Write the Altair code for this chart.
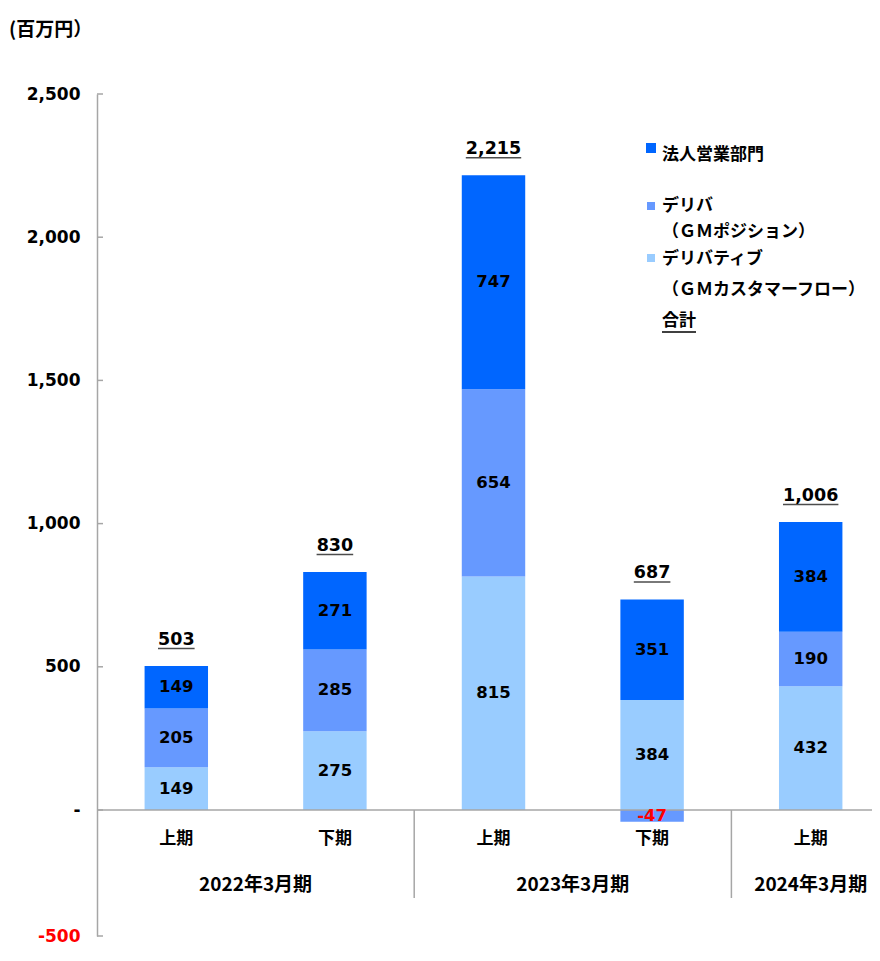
import altair as alt
import pandas as pd

# ---- data ----
periods = ["上期", "下期", "上期", "下期", "上期"]
fiscal_years = ["2022年3月期", "2022年3月期", "2023年3月期", "2023年3月期", "2024年3月期"]
customer_flow = [149, 275, 815, 384, 432]   # デリバティブ（GMカスタマーフロー）
gm_position = [205, 285, 654, -47, 190]     # デリバ（GMポジション）
corporate = [149, 271, 747, 351, 384]       # 法人営業部門
totals = [503, 830, 2215, 687, 1006]

series_names = ["デリバティブ（GMカスタマーフロー）", "デリバ（GMポジション）", "法人営業部門"]
series_colors = ["#99CCFF", "#6699FF", "#0066FF"]
y_ticks = [-500, 0, 500, 1000, 1500, 2000, 2500]
legend_lines = ["法人営業部門", "デリバ", "（ＧＭポジション）", "デリバティブ", "（ＧＭカスタマーフロー）", "合計"]
unit_title = "(百万円）"

# ---- layout ----
W, H = 775, 842          # visible plot width / height
RANGE_W = 793            # band range (plot runs past the page edge, as in the reference)
STEP = RANGE_W / len(periods)
ZERO_PX = 716            # pixel of value 0 from the plot top
NUM_FONT = "DejaVu Sans"
JP_FONT = "Noto Sans CJK JP"
GRAY = "#A6A6A6"

keys = [f"{y} {p}" for y, p in zip(fiscal_years, periods)]

rows = []
tops = []
for i, k in enumerate(keys):
    pos, neg = 0, 0
    for s, vals in zip(series_names, [customer_flow, gm_position, corporate]):
        v = vals[i]
        if v >= 0:
            y0, y1 = pos, pos + v
            pos = y1
        else:
            y0, y1 = neg + v, neg
            neg = y0
        rows.append({"key": k, "series": s, "value": v, "y0": y0, "y1": y1,
                     "mid": (y0 + y1) / 2, "lab": f"{v:,}",
                     "tcol": "#FF0000" if v < 0 else "#000000"})
    tops.append(pos)
seg = pd.DataFrame(rows)

def uw(t):
    return sum(6.6 if c == "," else 12.2 for c in t)

tot = pd.DataFrame({"key": keys, "top": tops, "lab": [f"{t:,}" for t in totals]})
tot["w"] = tot["lab"].map(uw)
lab_df = pd.DataFrame({"key": keys, "period": periods, "fy": fiscal_years})

xs = alt.Scale(domain=keys, range=[0, RANGE_W], paddingInner=0.6, paddingOuter=0.3)
ys = alt.Scale(domain=[-500, 0, 2500], range=[H, ZERO_PX, 0], nice=False, zero=False)
yaxis = alt.Axis(
    values=y_ticks,
    labelExpr="datum.value == 0 ? '-' : (datum.value < 0 ? '-' + format(-datum.value, ',') : format(datum.value, ','))",
    labelColor=alt.condition("datum.value < 0", alt.value("#FF0000"), alt.value("#000000")),
    labelFont=NUM_FONT, labelFontSize=17, labelFontWeight="bold",
    labelPadding=17, tickSize=0, ticks=False, grid=False,
    domainColor=GRAY, domainWidth=1.5, title=None,
)

def X(field="key:N"):
    return alt.X(field, scale=xs, axis=None, sort=keys)

def Y(field, **kw):
    return alt.Y(field, scale=ys, axis=yaxis, title=None, **kw)

bars = alt.Chart(seg).mark_bar().encode(
    x=X(), y=Y("y0:Q"), y2="y1:Q",
    color=alt.Color("series:N", scale=alt.Scale(domain=series_names, range=series_colors), legend=None),
)

zero = alt.Chart(pd.DataFrame({"v": [0]})).mark_rule(color=GRAY, strokeWidth=1.5).encode(
    y=Y("v:Q"), x=alt.value(0), x2=alt.value(W)
)

ytick_stubs = alt.Chart(pd.DataFrame({"v": y_ticks})).mark_rule(color=GRAY, strokeWidth=1.5).encode(
    y=Y("v:Q"), x=alt.value(0), x2=alt.value(6)
)

seg_text = alt.Chart(seg).mark_text(font=NUM_FONT, fontSize=16.5, fontWeight="bold", baseline="middle").encode(
    x=X(), y=Y("mid:Q"), text="lab:N", color=alt.Color("tcol:N", scale=None)
)

tot_text = alt.Chart(tot).mark_text(font=NUM_FONT, fontSize=17.5, fontWeight="bold",
                                    baseline="alphabetic", dy=-21, color="#000000").encode(
    x=X(), y=Y("top:Q"), text="lab:N"
)
tot_line = alt.Chart(tot).mark_tick(thickness=1.5, color="#000000", yOffset=-17.5).encode(
    x=X(), y=Y("top:Q"), size=alt.Size("w:Q", scale=None)
)

period_text = alt.Chart(lab_df).mark_text(font=JP_FONT, fontSize=17, fontWeight="bold",
                                          baseline="middle", color="#000000").encode(
    x=X(), y=alt.value(ZERO_PX + 29), text="period:N"
)

layers = [bars, zero, ytick_stubs, seg_text, tot_text, tot_line, period_text]

# fiscal-year group labels and separators
groups = []
for i, fy in enumerate(fiscal_years):
    if not groups or groups[-1][0] != fy:
        groups.append([fy, i, 1])
    else:
        groups[-1][2] += 1
for gi, (fy, first, n) in enumerate(groups):
    gdf = pd.DataFrame({"key": [keys[first]], "fy": [fy], "v": [0]})
    layers.append(alt.Chart(gdf).mark_text(font=JP_FONT, fontSize=19, fontWeight="bold", baseline="middle",
                                           color="#000000", xOffset=(n - 1) * STEP / 2).encode(
        x=X(), y=alt.value(ZERO_PX + 75), text="fy:N"))
    if gi > 0:
        layers.append(alt.Chart(gdf).mark_rule(color=GRAY, strokeWidth=1.5, xOffset=-STEP / 2).encode(
            x=X(), y=Y("v:Q"), y2=alt.value(ZERO_PX + 88)))

# custom legend
leg_x_sq, leg_x_txt = 554, 565
sq_pos = [(54, 10), (112, 8), (164, 8)]
for (yy, sz), col in zip(sq_pos, series_colors[::-1]):
    layers.append(alt.Chart(pd.DataFrame({"c": [col]})).mark_square(size=sz * sz, opacity=1).encode(
        x=alt.value(leg_x_sq), y=alt.value(yy), color=alt.Color("c:N", scale=None)))
txt_y = [61, 112, 138, 165, 196, 227]
for t, yy in zip(legend_lines, txt_y):
    layers.append(alt.Chart(pd.DataFrame({"t": [t]})).mark_text(
        font=JP_FONT, fontSize=17, fontWeight="bold", align="left", baseline="middle", color="#000000").encode(
        x=alt.value(leg_x_txt), y=alt.value(yy), text="t:N"))
layers.append(alt.Chart(pd.DataFrame({"t": [0]})).mark_rule(color="#000000", strokeWidth=1.5).encode(
    x=alt.value(leg_x_txt), x2=alt.value(leg_x_txt + 34), y=alt.value(238)))

# unit title
layers.append(alt.Chart(pd.DataFrame({"t": [unit_title]})).mark_text(
    font=JP_FONT, fontSize=19, fontWeight="bold", align="left", baseline="middle", color="#000000").encode(
    x=alt.value(-88), y=alt.value(-64), text="t:N"))

chart = alt.layer(*layers).properties(
    width=W, height=H,
    padding={"left": 89, "top": 86, "right": 0, "bottom": 9},
    autosize=alt.AutoSizeParams(type="none"),
).configure_view(stroke=None)

chart.save("out.html", embed_options={"renderer": "svg", "actions": False})
